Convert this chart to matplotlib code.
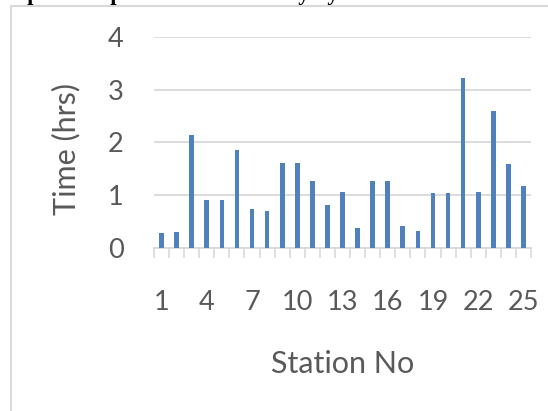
import matplotlib.pyplot as plt
import matplotlib.patches as mpatches
import numpy as np

stations = list(range(1, 26))
hours = [0.28, 0.31, 2.15, 0.91, 0.91, 1.86, 0.73, 0.70, 1.61, 1.61,
         1.27, 0.82, 1.06, 0.38, 1.27, 1.27, 0.42, 0.32, 1.04, 1.04,
         3.22, 1.06, 2.60, 1.59, 1.18]
tick_labels = [1, 4, 7, 10, 13, 16, 19, 22, 25]

txt = '#595959'
grid = '#d9d9d9'
plt.rcParams['font.family'] = ['Lato', 'DejaVu Sans']

fig = plt.figure(figsize=(5.48, 4.11), dpi=100)
ax = fig.add_axes([0.281, 0.3966, 0.688, 0.5134])

# outer chart frame (runs off the right/bottom edge)
fig.patches.append(mpatches.Rectangle((11 / 548, -0.1), 1.2, 1 - 6 / 411 + 0.1,
                                      transform=fig.transFigure, fill=False,
                                      edgecolor=grid, linewidth=1.5))
# cut-off caption above the chart
fig.text(-0.02, 1.0, 'Graphical representation of delay by station',
         family='Liberation Serif', weight='bold', fontsize=16,
         va='baseline', ha='left', color='black')

ax.bar(stations, hours, width=0.31, color='#4f81bd', zorder=3)

ax.set_xlim(0.5, 25.5)
ax.set_ylim(0, 4)
ax.set_yticks([0, 1, 2, 3, 4])
ax.yaxis.grid(True, color=grid, linewidth=1.3)
ax.set_axisbelow(True)

ax.set_xticks(tick_labels)
ax.set_xticklabels([str(t) for t in tick_labels])
ax.set_xticks(np.arange(0.5, 26, 1), minor=True)
ax.tick_params(axis='x', which='major', length=0, pad=30, labelsize=19.5, colors=txt)
ax.tick_params(axis='x', which='minor', length=7, width=1.2, color=grid)
ax.tick_params(axis='y', length=0, pad=22, labelsize=19.5, colors=txt)

for s in ['top', 'right', 'left']:
    ax.spines[s].set_visible(False)
ax.spines['bottom'].set_color(grid)
ax.spines['bottom'].set_linewidth(1.3)

ax.set_xlabel('Station No', fontsize=22, color=txt)
ax.xaxis.set_label_coords(0.5, -0.485)
ax.set_ylabel('Time (hrs)', fontsize=22, color=txt)
ax.yaxis.set_label_coords(-0.196, 0.47)

fig.savefig('out.png', dpi=100)
